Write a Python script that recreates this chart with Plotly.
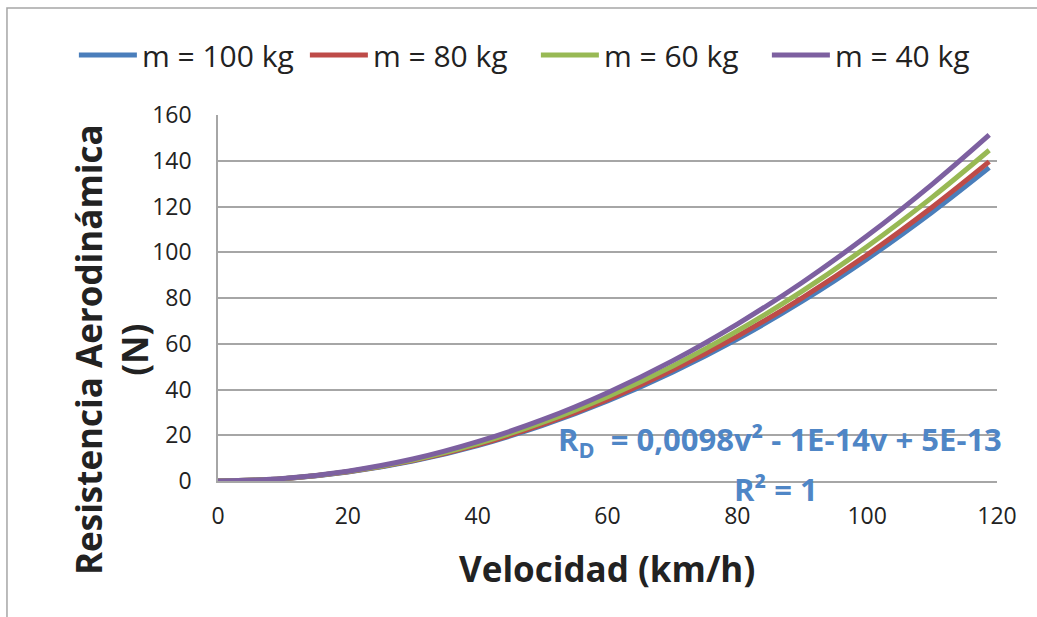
import plotly.graph_objects as go

# Velocity (km/h)
velocidad = [0, 10, 20, 30, 40, 50, 60, 70, 80, 90, 100, 110, 118.8]
# Aerodynamic resistance (N) per mass
rd_100 = [0, 0.97, 3.9, 8.7, 15.5, 24.3, 35.0, 47.6, 62.1, 78.6, 97.1, 117.5, 137.0]
rd_80 = [0, 0.99, 4.0, 8.9, 15.8, 24.7, 35.6, 48.5, 63.3, 80.1, 98.9, 119.7, 139.6]
rd_60 = [0, 1.03, 4.1, 9.2, 16.4, 25.6, 36.9, 50.2, 65.6, 83.0, 102.5, 124.0, 144.6]
rd_40 = [0, 1.07, 4.3, 9.6, 17.2, 26.8, 38.6, 52.5, 68.6, 86.8, 107.2, 129.7, 151.3]

series = [
    ("m = 100 kg", rd_100, "#4a7ebb"),
    ("m = 80 kg", rd_80, "#be4b48"),
    ("m = 60 kg", rd_60, "#98b954"),
    ("m = 40 kg", rd_40, "#7d60a0"),
]

FONT = "Open Sans"

fig = go.Figure()
for name, ys, col in series:
    fig.add_trace(go.Scatter(
        x=velocidad, y=ys, name=name, mode="lines",
        line=dict(color=col, width=5, shape="spline"),
    ))

grid = "#a6a6a6"
fig.update_layout(
    width=1037, height=617,
    margin=dict(l=218, r=40, t=115, b=136),
    paper_bgcolor="white", plot_bgcolor="white",
    font=dict(family=FONT, color="#222222"),
    legend=dict(orientation="h", x=-0.185, xanchor="left", y=1.164, yanchor="middle",
                font=dict(size=30, family=FONT), itemwidth=58, entrywidth=158,
                traceorder="normal", bgcolor="rgba(0,0,0,0)"),
    xaxis=dict(range=[0, 120], tickvals=[0, 20, 40, 60, 80, 100, 120],
               showgrid=False, showline=True, linecolor=grid, linewidth=1.5,
               zeroline=False, ticks="", tickfont=dict(size=23, family=FONT),
               ticklabelstandoff=14),
    yaxis=dict(range=[0, 160], tickvals=[0, 20, 40, 60, 80, 100, 120, 140, 160],
               showgrid=True, gridcolor=grid, gridwidth=1.5,
               showline=True, linecolor=grid, linewidth=1.5,
               zeroline=False, ticks="", tickfont=dict(size=23, family=FONT),
               ticklabelstandoff=20),
    showlegend=True,
)

# outer chart frame
fig.add_shape(type="rect", xref="paper", yref="paper",
              x0=-0.2709, x1=1.07, y0=-0.40, y1=1.2923,
              line=dict(color="#a6a6a6", width=1.5), fillcolor="rgba(0,0,0,0)", layer="below")

eq_col = "#4f86c6"
fig.add_annotation(x=86.6, y=17.5, xref="x", yref="y", showarrow=False,
                   text="<b>R<sub>D</sub>  = 0,0098v² - 1E-14v + 5E-13</b>",
                   font=dict(size=31, color=eq_col, family=FONT), xanchor="center", yanchor="middle")
fig.add_annotation(x=85.9, y=-0.021, xref="x", yref="paper", showarrow=False,
                   text="<b>R² = 1</b>",
                   font=dict(size=31, color=eq_col, family=FONT), xanchor="center", yanchor="middle")

fig.add_annotation(x=0.499, y=-0.238, xref="paper", yref="paper", showarrow=False,
                   text="<b>Velocidad (km/h)</b>", font=dict(size=35, family=FONT, color="#222222"),
                   xanchor="center", yanchor="middle")
fig.add_annotation(x=-0.136, y=0.358, xref="paper", yref="paper", showarrow=False,
                   text="<b>Resistencia Aerodinámica<br>(N)</b>", textangle=-90,
                   font=dict(size=35, family=FONT, color="#222222"),
                   xanchor="center", yanchor="middle")

fig.write_html("out.html", config={"displayModeBar": False},
               post_script="document.body.style.margin='0';document.body.style.overflow='hidden';")
